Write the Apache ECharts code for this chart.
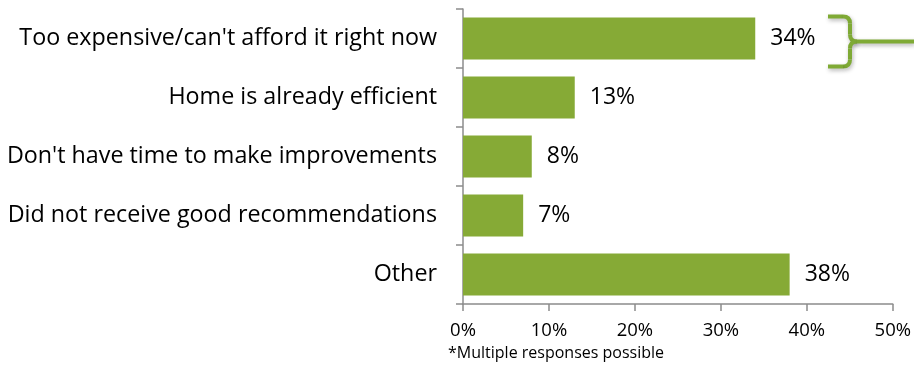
<!DOCTYPE html>
<html>
<head>
<meta charset="utf-8">
<script src="https://cdn.jsdelivr.net/npm/echarts@6/dist/echarts.min.js"></script>
<style>
  html, body { margin: 0; padding: 0; background: #fff; }
  #chart { width: 914px; height: 365px; }
</style>
</head>
<body>
<div id="chart"></div>
<script>
const categories = [
  "Too expensive/can't afford it right now",
  "Home is already efficient",
  "Don't have time to make improvements",
  "Did not receive good recommendations",
  "Other"
];
const values = [34, 13, 8, 7, 38];
const xTicks = [0, 10, 20, 30, 40, 50];
const footnote = "*Multiple responses possible";

const green = "#86AA36";
const axisGray = "#8c8c8c";
const font = "'Open Sans', 'Noto Sans', sans-serif";

const chart = echarts.init(document.getElementById("chart"));

const option = {
  animation: false,
  grid: { left: 463, right: 21, top: 9, bottom: 61 },
  xAxis: {
    type: "value",
    min: xTicks[0],
    max: xTicks[xTicks.length - 1],
    interval: 10,
    splitLine: { show: false },
    axisLine: { show: true, lineStyle: { color: axisGray, width: 1.5 } },
    axisTick: { show: true, length: 7, lineStyle: { color: axisGray, width: 1.5 } },
    axisLabel: {
      formatter: "{value}%",
      color: "#000",
      fontSize: 18.5,
      fontFamily: font,
      margin: 17
    }
  },
  yAxis: {
    type: "category",
    inverse: true,
    data: categories,
    axisLine: { show: true, lineStyle: { color: axisGray, width: 1.5 } },
    axisTick: { show: true, length: 7, lineStyle: { color: axisGray, width: 1.5 } },
    axisLabel: {
      color: "#000",
      fontSize: 23.3,
      fontFamily: font,
      margin: 26
    }
  },
  series: [{
    type: "bar",
    data: values,
    barWidth: 42,
    itemStyle: { color: green },
    label: {
      show: true,
      position: "right",
      distance: 15,
      formatter: "{c}%",
      color: "#000",
      fontSize: 23,
      fontFamily: font
    }
  }]
};
chart.setOption(option);

// curly bracket pointing at the first bar's label
const yc = chart.convertToPixel({ yAxisIndex: 0 }, categories[0]) + 3;
const x0 = 828, xm = 850, h = 25, r = 7;
const bracketStyle = {
  fill: null,
  stroke: "#7FAA35",
  lineWidth: 4,
  shadowBlur: 4,
  shadowOffsetX: 1,
  shadowOffsetY: 2,
  shadowColor: "rgba(0,0,0,0.3)"
};
const seg = (x1, y1, x2, y2) => ({ type: "line", shape: { x1, y1, x2, y2 }, style: bracketStyle });
const curve = (x1, y1, cx, cy, x2, y2) => ({
  type: "bezierCurve",
  shape: { x1, y1, x2, y2, cpx1: cx, cpy1: cy },
  style: bracketStyle
});

chart.setOption({
  graphic: [
    seg(x0, yc - h, xm - r, yc - h),
    curve(xm - r, yc - h, xm, yc - h, xm, yc - h + r),
    seg(xm, yc - h + r, xm, yc - r),
    curve(xm, yc - r, xm, yc, xm + r, yc),
    curve(xm + r, yc, xm, yc, xm, yc + r),
    seg(xm, yc + r, xm, yc + h - r),
    curve(xm, yc + h - r, xm, yc + h, xm - r, yc + h),
    seg(xm - r, yc + h, x0, yc + h),
    seg(xm + r, yc, 914, yc),
    {
      type: "text",
      left: 448,
      top: 345,
      style: { text: footnote, fill: "#000", font: "16px " + font }
    }
  ]
});
</script>
</body>
</html>
